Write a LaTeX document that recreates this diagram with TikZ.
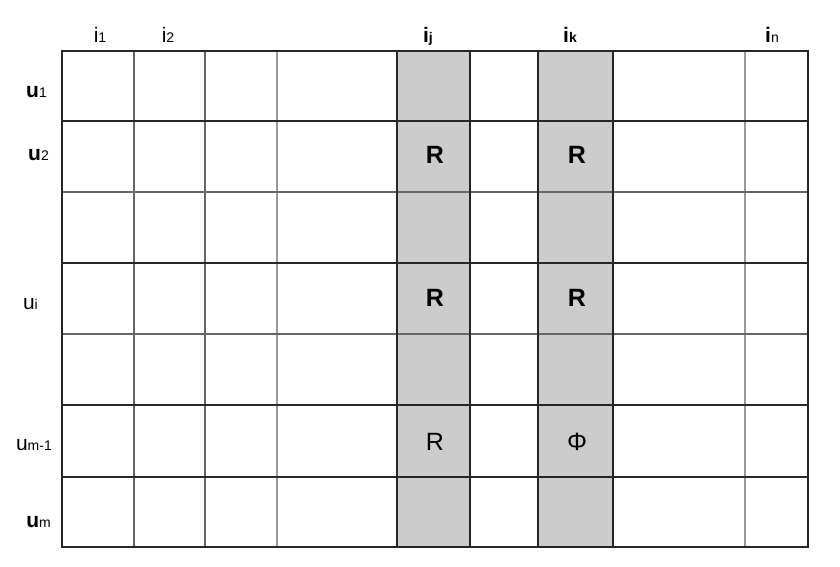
\documentclass[tikz,border=0pt]{standalone}
\usepackage{fontspec}
\setmainfont{Liberation Sans}
\usetikzlibrary{positioning}
\newcommand{\lbl}[2]{{\fontsize{21}{21}\selectfont #1}{\fontsize{14}{14}\selectfont #2}}
\tikzset{heavy/.style={line width=2pt, black!85},
medium/.style={line width=1.6pt, black!60},
light/.style={line width=1.3pt, black!40},
band/.style={fill=black!20, draw=none},
head/.style={inner sep=0pt, anchor=base},
rowhead/.style={inner sep=0pt, anchor=base east},
cell/.style={inner sep=0pt, font=\fontsize{25}{25}\selectfont}}

\begin{document}
\begin{tikzpicture}[x=1pt, y=-1pt]
  \useasboundingbox (0,0) rectangle (840,566);
  % shaded columns j and k
  \fill [band] (397,51) rectangle (470,547);
  \fill [band] (538,51) rectangle (613,547);
  % grid
  \foreach \x in {134,205} \draw [medium] (\x,51) -- (\x,547);
  \foreach \x in {277,745} \draw [light] (\x,51) -- (\x,547);
  \foreach \y in {192,334} \draw [medium] (62,\y) -- (808,\y);
  \foreach \y in {121,263,405,477} \draw [heavy] (62,\y) -- (808,\y);
  \foreach \x in {397,470,538,613} \draw [heavy] (\x,51) -- (\x,547);
  \draw [heavy] (62,51) rectangle (808,547);
  % column heads
  \node (i1) [head] at (100,42) {\lbl{i}{1}};
  \node (i2) [head] at (168,42) {\lbl{i}{2}};
  \node (ij) [head] at (428,42) {\lbl{\bfseries i}{\bfseries j}};
  \node (ik) [head] at (570,42) {\lbl{\bfseries i}{\bfseries k}};
  \node (in) [head] at (772,42) {\lbl{\bfseries i}{n}};
  % row heads
  \node (u1) [rowhead] at (47,97) {\lbl{\bfseries u}{1}};
  \node (u2) [rowhead] at (49,160) {\lbl{\bfseries u}{2}};
  \node (ui) [rowhead] at (38,309) {\lbl{u}{i}};
  \node (um1) [rowhead] at (52,450) {\lbl{u}{m-1}};
  \node (um) [rowhead] at (51,527) {\lbl{\bfseries u}{m}};
  % entries
  \node (r2j) [cell] at (435,155) {\bfseries R};
  \node (r2k) [cell] at (577,155) {\bfseries R};
  \node (rij) [cell] at (435,298) {\bfseries R};
  \node (rik) [cell] at (577,298) {\bfseries R};
  \node (rmj) [cell] at (435,442) {R};
  \node (phi) [cell] at (577,442) {Φ};
\end{tikzpicture}
\end{document}
